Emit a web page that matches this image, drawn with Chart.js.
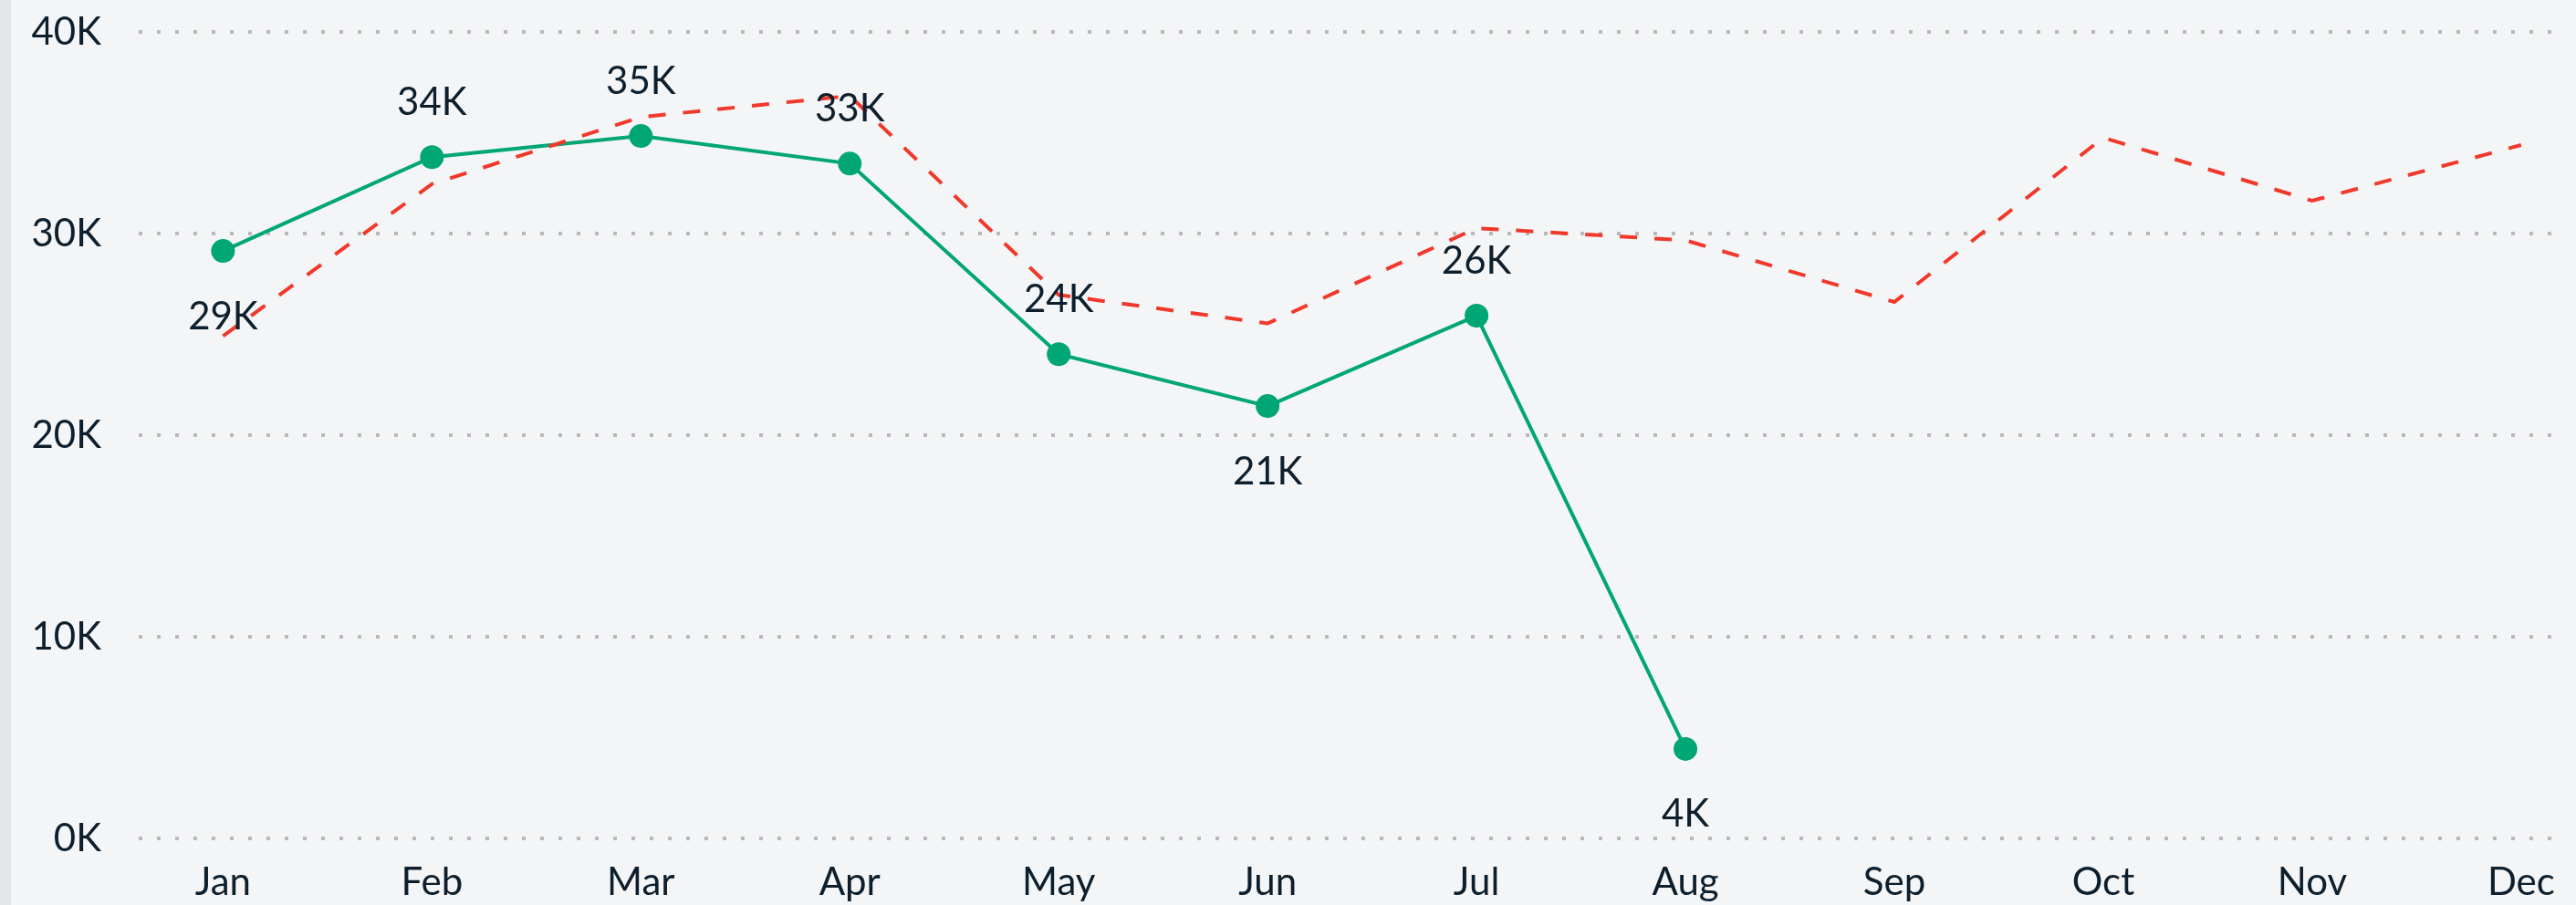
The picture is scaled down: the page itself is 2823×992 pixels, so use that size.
<!DOCTYPE html>
<html>
<head>
<meta charset="utf-8">
<script src="https://cdn.jsdelivr.net/npm/chart.js@4"></script>
<style>
  html, body { margin: 0; padding: 0; }
  body {
    width: 2823px; height: 992px; overflow: hidden;
    background: linear-gradient(90deg, #e4e7e9 0, #e4e7e9 12px, #f4f5f6 12px);
  }
  #wrap { position: relative; width: 2823px; height: 992px; }
</style>
</head>
<body>
<div id="wrap"><canvas id="revenueChart"></canvas></div>
<script>
const months = ['Jan', 'Feb', 'Mar', 'Apr', 'May', 'Jun', 'Jul', 'Aug', 'Sep', 'Oct', 'Nov', 'Dec'];
const actual = [29140, 33790, 34840, 33470, 24020, 21450, 25930, 4450, null, null, null, null];
const target = [24920, 32460, 35780, 36830, 26960, 25550, 30270, 29670, 26610, 34760, 31630, 34390];
const yTicks = [0, 10000, 20000, 30000, 40000];

const textColor = '#0d1f2d';
const fontFamily = 'Lato, "Open Sans", sans-serif';

const toPoints = (arr) => arr.map((v, i) => ({ x: i, y: v }));
const kFormat = (v) => Math.round(v / 1000) + 'K';

// value labels on the actual line: under the point when it is a dip, over it otherwise
const valueLabels = {
    id: 'valueLabels',
    afterDatasetsDraw(chart) {
        const idx = chart.data.datasets.findIndex(d => d.label === 'Actual');
        const meta = chart.getDatasetMeta(idx);
        const ctx = chart.ctx;
        ctx.save();
        ctx.font = `42px ${fontFamily}`;
        ctx.fillStyle = textColor;
        ctx.textAlign = 'center';
        ctx.textBaseline = 'middle';
        actual.forEach((v, i) => {
            if (v == null) return;
            const el = meta.data[i];
            const prev = actual[i - 1], next = actual[i + 1];
            const below = (prev == null || v < prev) && (next == null || v < next);
            ctx.fillText(kFormat(v), el.x, below ? el.y + 72 : el.y - 60);
        });
        ctx.restore();
    }
};

const ctx = document.getElementById('revenueChart');

new Chart(ctx, {
    type: 'line',
    data: {
        datasets: [
            {
                label: 'Target',
                data: toPoints(target),
                borderColor: '#f0382b',
                borderWidth: 4,
                borderDash: [19, 19],
                pointRadius: 0,
                order: 0
            },
            {
                label: 'Actual',
                data: toPoints(actual),
                borderColor: '#00a673',
                backgroundColor: '#00a673',
                borderWidth: 4,
                pointRadius: 13,
                pointBorderWidth: 0,
                pointBackgroundColor: '#00a673',
                order: 1
            }
        ]
    },
    options: {
        responsive: true,
        maintainAspectRatio: false,
        animation: false,
        layout: { padding: { top: 35, right: 0, bottom: 0, left: 0 } },
        plugins: {
            legend: { display: false },
            tooltip: { enabled: false }
        },
        scales: {
            x: {
                type: 'linear',
                min: -0.4036,
                max: 11.187,
                afterBuildTicks: (scale) => { scale.ticks = months.map((m, i) => ({ value: i })); },
                afterFit: (scale) => { scale.height = 72.7; },
                grid: { display: false, drawTicks: false },
                border: { display: false },
                ticks: {
                    autoSkip: false,
                    maxRotation: 0,
                    padding: 23,
                    color: textColor,
                    font: { family: fontFamily, size: 42 },
                    callback: (v) => months[v] ?? ''
                }
            },
            y: {
                min: 0,
                max: 40000,
                afterBuildTicks: (scale) => { scale.ticks = yTicks.map(v => ({ value: v })); },
                afterFit: (scale) => {
                    scale.width = 152;
                    scale.paddingTop = 0;
                    scale.paddingBottom = 0;
                },
                grid: { color: '#b9b9b9', lineWidth: 4, drawTicks: false },
                border: { display: false, dash: [4, 16] },
                ticks: {
                    padding: 41,
                    color: textColor,
                    font: { family: fontFamily, size: 42 },
                    callback: (v) => kFormat(v)
                }
            }
        }
    },
    plugins: [valueLabels]
});
</script>
</body>
</html>
